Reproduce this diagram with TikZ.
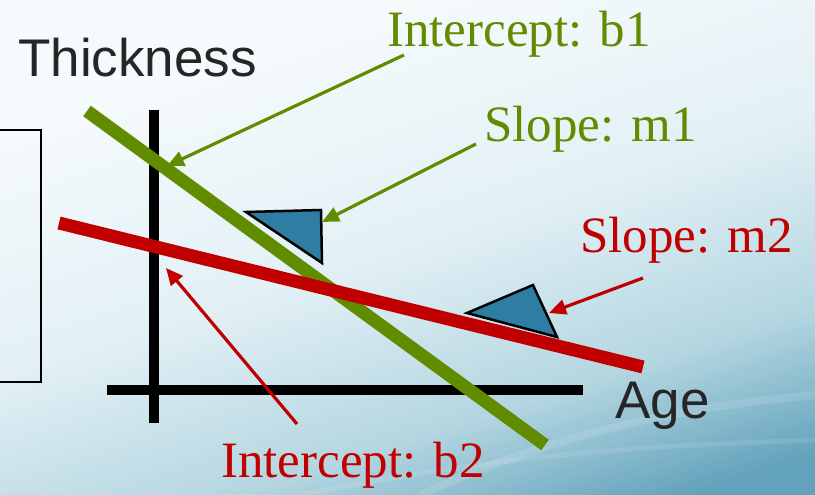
\documentclass[tikz,border=0pt]{standalone}
\usepackage{fontspec}
\setmainfont{Liberation Serif}
\setsansfont{Liberation Sans}
\usetikzlibrary{arrows.meta}
\definecolor{lgreen}{RGB}{98,140,0}
\definecolor{lred}{RGB}{192,0,0}
\definecolor{tri}{RGB}{46,125,163}
\definecolor{ink}{RGB}{38,38,38}
\definecolor{bgA}{RGB}{245,250,252}
\definecolor{bgB}{RGB}{226,240,245}
\definecolor{bgC}{RGB}{180,214,225}
\definecolor{bgD}{RGB}{100,163,188}
\pgfdeclarehorizontalshading{bgshade}{100bp}{color(0bp)=(bgA); color(30bp)=(bgA); color(50bp)=(bgB); color(66bp)=(bgC); color(78bp)=(bgD); color(100bp)=(bgD)}
\tikzset{
  serif label/.style={anchor=base west, inner sep=0pt, font=\rmfamily\fontsize{51}{51}\selectfont},
  sans label/.style={anchor=base west, inner sep=0pt, text=ink, font=\sffamily\fontsize{53}{53}\selectfont},
  axisline/.style={line width=10pt, black},
  fitline/.style={line width=13pt},
  pointer/.style={line width=3.2pt, -{Triangle[length=17pt,width=15pt]}},
  slopetri/.style={fill=tri, draw=black, line width=2.5pt, line join=miter}
}
\begin{document}
\begin{tikzpicture}[x=1pt,y=-1pt]
\useasboundingbox (0,0) rectangle (815,495);
\shade[shading=bgshade, shading angle=-72] (0,0) rectangle (815,495);
% faint waves
\draw[white, opacity=0.12, line width=8pt] (420,495) .. controls (560,430) and (700,405) .. (815,395);
\draw[white, opacity=0.10, line width=5pt] (300,495) .. controls (520,450) and (680,445) .. (815,440);

% left box
\draw[black, line width=2.5pt] (-10,130) -- (41,130) -- (41,382) -- (-10,382);

% axes
\coordinate (vtop) at (154,110);
\coordinate (vbot) at (154,423);
\coordinate (hl) at (107,390);
\coordinate (hr) at (583,390);
\draw[axisline] (vtop) -- (vbot);
\draw[axisline] (hl) -- (hr);

% fitted lines
\coordinate (g1) at (87,111);
\coordinate (g2) at (545,445);
\coordinate (r1) at (59,223);
\coordinate (r2) at (643,367);
\draw[fitline, lgreen] (g1) -- (g2);
\draw[fitline, lred] (r1) -- (r2);

% slope triangles
\draw[slopetri] (246,212) -- (321,210) -- (322,263) -- cycle;
\draw[slopetri] (467,313) -- (533,285) -- (557,337) -- cycle;

% labels
\node[sans label] (thick) at (18,77) {Thickness};
\node[sans label] (age) at (615,418) {Age};
\node[serif label, text=lgreen] (b1) at (387,47) {Intercept: b1};
\node[serif label, text=lgreen] (m1) at (484,142) {Slope: m1};
\node[serif label, text=lred] (m2) at (580,252) {Slope: m2};
\node[serif label, text=lred] (b2) at (221,477) {Intercept: b2};

% pointers
\coordinate (b1s) at (404,55);
\coordinate (b1e) at (167,166);
\coordinate (m1s) at (476,144);
\coordinate (m1e) at (322,222);
\coordinate (m2s) at (643,278);
\coordinate (m2e) at (549,313);
\coordinate (b2s) at (297,424);
\coordinate (b2e) at (166,268);
\draw[pointer, lgreen] (b1s) -- (b1e);
\draw[pointer, lgreen] (m1s) -- (m1e);
\draw[pointer, lred] (m2s) -- (m2e);
\draw[pointer, lred] (b2s) -- (b2e);
\end{tikzpicture}
\end{document}
